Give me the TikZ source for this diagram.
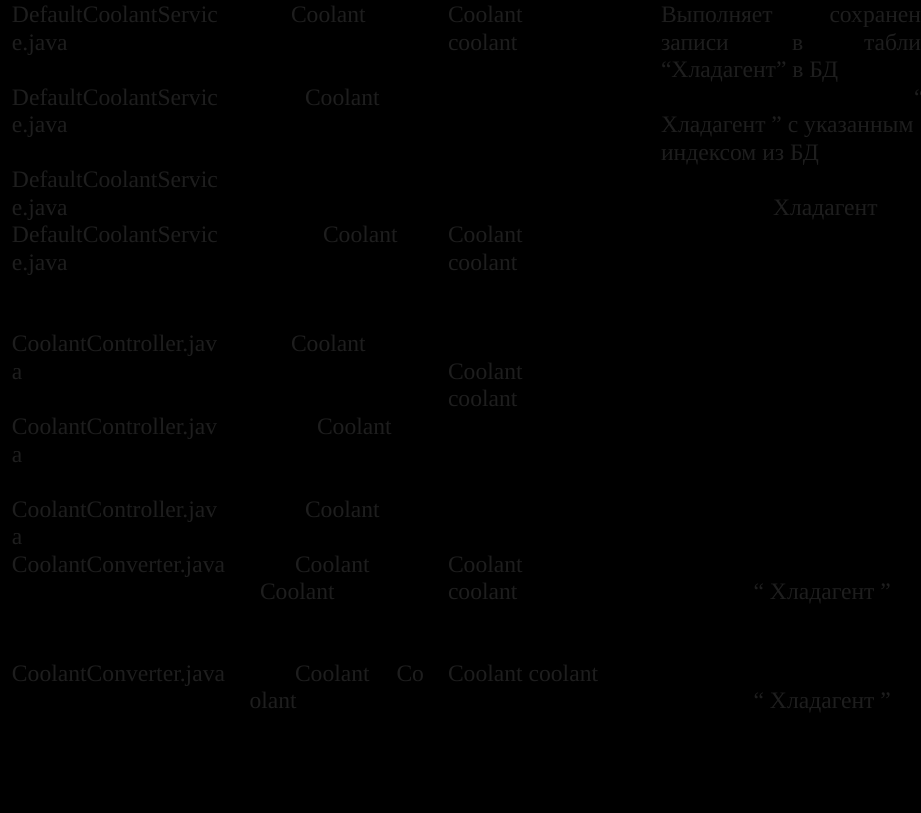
\documentclass[tikz,border=0pt]{standalone}
\usepackage{fontspec}
\setmainfont{Liberation Serif}
\usepackage{tikz}

\definecolor{celltext}{HTML}{1E1E1E}
\newcommand\cellfont{\fontsize{17.7pt}{20.6pt}\selectfont}

\begin{document}
\begin{tikzpicture}[x=0.75pt, y=-0.75pt,
  cell/.style={anchor=base west, inner sep=0pt, outer sep=0pt, text=celltext, font=\cellfont},
  cellr/.style={cell, anchor=base east}]

\fill[black] (0,0) rectangle (921,813);
\useasboundingbox (0,0) rectangle (921,813);
\clip (0,0) rectangle (921,813);

% first column: file names
\foreach \r/\y in {1/22.7, 2/105.2, 3/187.7, 4/242.7}
{
  \node[cell] (svc\r) at (12,\y) {DefaultCoolantServic};
  \node[cell] (svcb\r) at (12,\y+27.5) {e.java};
}
\foreach \r/\y in {1/351.7, 2/434.5, 3/517}
{
  \node[cell] (ctl\r) at (12,\y) {CoolantController.jav};
  \node[cell] (ctlb\r) at (12,\y+27.5) {a};
}
\node[cell] (cnv1) at (12,572) {CoolantConverter.java};
\node[cell] (cnv2) at (12,681) {CoolantConverter.java};

% second column: return types
\foreach \n/\x/\y in {a/291/22.7, b/305/105.2, c/323/242.7, d/291/351.7, e/317/434.5,
                      f/305/517, g/295/572, h/260/599.2, i/295/681}
  \node[cell] (ret\n) at (\x,\y) {Coolant};
\node[cell] (retj) at (396.5,681) {Co};
\node[cell] (retk) at (249.6,708) {olant};

% third column: arguments
\foreach \n/\y in {a/22.7, b/242.7, c/379.2, d/572}
{
  \node[cell] (arg\n) at (448,\y) {Coolant};
  \node[cell] (argb\n) at (448,\y+27.5) {coolant};
}
\node[cell] (arge) at (448,681) {Coolant coolant};

% fourth column: description
\node[cell]  (d1a) at (661,22.7) {Выполняет};
\node[cellr] (d1b) at (921,22.7) {сохранен};
\node[cell]  (d2a) at (661,50.2) {записи};
\node[cell]  (d2b) at (792,50.2) {в};
\node[cellr] (d2c) at (921,50.2) {табли};
\node[cell]  (d3)  at (661,77.7) {“Хладагент” в БД};
\node[cell]  (d4)  at (914,105.2) {“};
\node[cell]  (d5)  at (661,132.7) {Хладагент ” с указанным};
\node[cell]  (d6)  at (661,160.2) {индексом из БД};
\node[cell]  (d7)  at (773,215) {Хладагент};
\node[cell]  (d8)  at (753.6,599.2) {“ Хладагент ”};
\node[cell]  (d9)  at (753.6,708) {“ Хладагент ”};

\end{tikzpicture}
\end{document}
